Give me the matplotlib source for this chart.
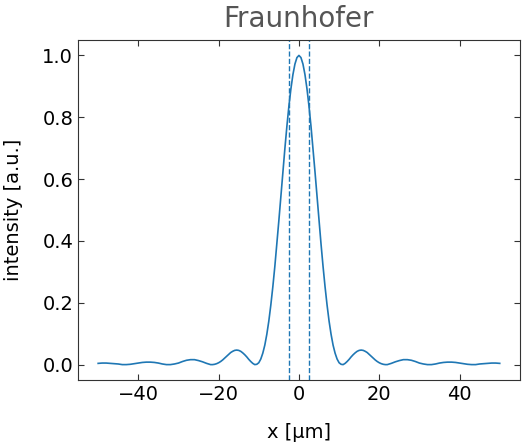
import numpy as np
import matplotlib
matplotlib.use("Agg")
import matplotlib.pyplot as plt

# positions along the screen [um], right half (pattern is symmetric)
x_half = [0, 0.5, 1, 1.5, 2, 2.5, 3, 3.5, 4, 4.5, 5, 5.5, 6, 6.5, 7, 7.5,
          8, 8.5, 9, 9.5, 10, 10.5, 11, 11.5, 12, 12.5, 13, 13.5, 14, 14.5,
          15, 15.5, 16, 16.5, 17, 17.5, 18, 18.5, 19, 19.5, 20, 20.5, 21,
          21.5, 22, 23, 24, 25, 26, 27, 28, 29, 30, 31, 32, 33, 34, 35, 36,
          37, 38, 39, 40, 41, 42, 43, 44, 45, 46, 47, 48, 49, 50]

# intensity at x_half
i_half = [1.000, 0.993, 0.972, 0.938, 0.892, 0.836, 0.771, 0.699, 0.623,
          0.545, 0.466, 0.390, 0.318, 0.252, 0.193, 0.141, 0.098, 0.063,
          0.037, 0.018, 0.006, 0.001, 0.000, 0.004, 0.010, 0.017, 0.025,
          0.032, 0.038, 0.043, 0.046, 0.047, 0.046, 0.043, 0.039, 0.033,
          0.027, 0.021, 0.015, 0.010, 0.006, 0.003, 0.001, 0.000, 0.000,
          0.004, 0.009, 0.013, 0.016, 0.016, 0.014, 0.010, 0.005, 0.002,
          0.000, 0.000, 0.002, 0.005, 0.007, 0.008, 0.008, 0.007, 0.005,
          0.003, 0.001, 0.000, 0.000, 0.002, 0.003, 0.004, 0.005, 0.005,
          0.004]

x_um = [-v for v in x_half[:0:-1]] + x_half
intensity = i_half[:0:-1] + i_half

# dashed markers
markers = [-2.5, 2.5]

fig = plt.figure(figsize=(5.24, 4.44), dpi=100)
ax = fig.add_axes([0.149, 0.144, 0.843, 0.766])

ax.plot(x_um, intensity, color="#1f77b4", lw=1.2)
for m in markers:
    ax.axvline(m, color="#1f77b4", ls="--", lw=1.0)

ax.set_xticks([-40, -20, 0, 20, 40])
ax.set_yticks([0.0, 0.2, 0.4, 0.6, 0.8, 1.0])
ax.tick_params(direction="in", top=True, right=True, labelsize=14, length=4,
               color="#333333")
for s in ax.spines.values():
    s.set_color("#333333")

ax.set_xlabel("x [µm]", fontsize=14, labelpad=14)
ax.set_ylabel("intensity [a.u.]", fontsize=14, labelpad=14)
ax.set_title("Fraunhofer", fontsize=20, color="#555555", pad=9)

fig.savefig("out.png", dpi=100)
